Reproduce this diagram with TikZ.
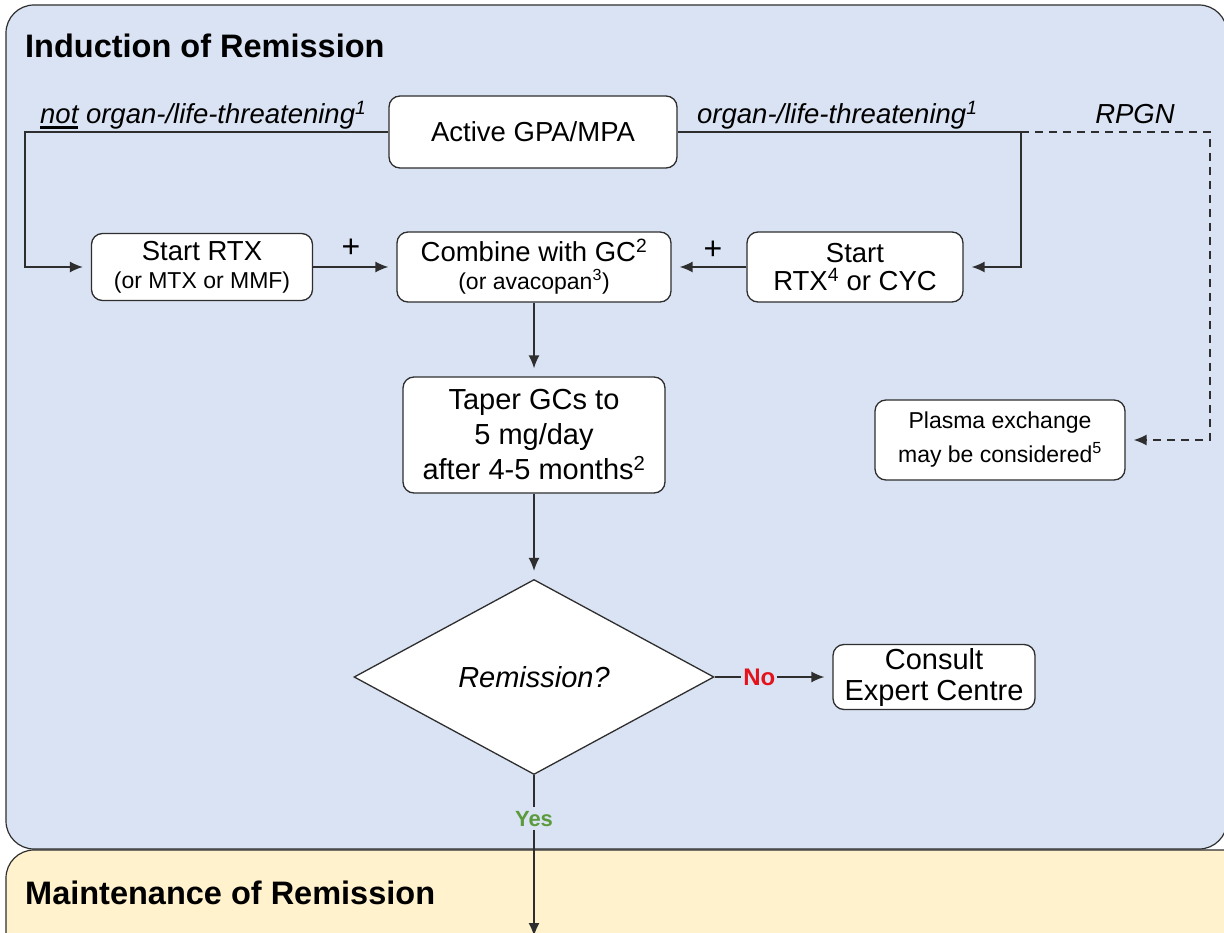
\documentclass[tikz,border=0pt]{standalone}
\usepackage{fontspec}
\setmainfont{Liberation Sans}
\usetikzlibrary{shapes.geometric,arrows.meta}
\definecolor{panelblue}{HTML}{DAE3F3}
\definecolor{panelyellow}{HTML}{FFF2CC}
\definecolor{linegray}{HTML}{2E2E2E}
\definecolor{noRed}{HTML}{E3121B}
\definecolor{yesGreen}{HTML}{5B9B3D}
\newcommand{\thickul}[1]{\setbox0\hbox{#1}\rlap{\rule[-5pt]{\wd0}{3pt}}#1}
\begin{document}
\begin{tikzpicture}[x=1pt,y=-1pt,
  panel/.style={draw=linegray, line width=1.2pt, rounded corners=28pt},
  box/.style={draw=linegray, line width=1.3pt, fill=white, rounded corners=11pt,
    align=center, inner sep=0pt, font=\fontsize{27.5}{33}\selectfont},
  conn/.style={draw=linegray, line width=1.4pt},
  arr/.style={conn, -{Latex[length=13pt,width=11pt]}, shorten >=8pt},
  dasharr/.style={arr, dash pattern=on 8pt off 6pt},
  lab/.style={inner sep=0pt, font=\itshape\fontsize{27.5}{30}\selectfont},
  title/.style={inner sep=0pt, anchor=base west, font=\bfseries\fontsize{32.5}{36}\selectfont},
  plus/.style={inner sep=0pt, font=\fontsize{32}{32}\selectfont}
]
\useasboundingbox (0,0) rectangle (1224,933);
% panels
\draw[panel, fill=panelyellow] (6,980) -- (6,850) -- (1260,850) -- (1260,980);
\draw[panel, fill=panelblue] (6,5) rectangle (1227,849);
\node[title] (t1) at (25,58) {Induction of Remission};
\node[title] (t2) at (25,904) {Maintenance of Remission};

% nodes
\node[box, minimum width=288pt, minimum height=72pt] (act) at (533,132) {Active GPA/MPA};
\node[box, minimum width=221pt, minimum height=67pt] (rtx) at (202,267)
  {Start RTX\\[-5pt]{\fontsize{23}{26}\selectfont (or MTX or MMF)}};
\node[box, minimum width=274pt, minimum height=70pt] (gc) at (534,267)
  {Combine with GC\textsuperscript{2}\\[-5pt]{\fontsize{23}{26}\selectfont (or avacopan\textsuperscript{3})}};
\node[box, minimum width=216pt, minimum height=70pt] (cyc) at (855,267)
  {Start\\[-5pt]RTX\textsuperscript{4} or CYC};
\node[box, minimum width=262pt, minimum height=116pt, font=\fontsize{29}{35}\selectfont] (taper) at (534,435)
  {Taper GCs to\\5 mg/day\\after 4-5 months\textsuperscript{2}};
\node[box, minimum width=250pt, minimum height=80pt, font=\fontsize{23}{34}\selectfont] (pex) at (1000,440)
  {Plasma exchange\\may be considered\textsuperscript{5}};
\node[diamond, draw=linegray, line width=1.3pt, fill=white, inner sep=0pt, aspect=1.85,
  minimum width=360pt, minimum height=195pt, font=\itshape\fontsize{29}{32}\selectfont] (rem) at (534,677) {Remission?};
\node[box, minimum width=202pt, minimum height=65pt, font=\fontsize{29}{31}\selectfont] (exp) at (934,677)
  {Consult\\Expert Centre};

% labels
\node[lab, anchor=base west] (l1) at (40,124) {\thickul{not} organ-/life-threatening\textsuperscript{1}};
\node[lab, anchor=base west] (l2) at (697,124) {organ-/life-threatening\textsuperscript{1}};
\node[lab, anchor=base] (l3) at (1135,124) {RPGN};
\node[plus] (p1) at (351,248) {+};
\node[plus] (p2) at (713,250) {+};

% connectors
\coordinate (cl) at (25,132);
\coordinate (cr) at (1021,132);
\coordinate (cd) at (1210,132);
\draw[arr] (act.west) -- (cl) |- (rtx.west);
\draw[arr] (act.east) -- (cr) |- (cyc.east);
\draw[dasharr] (cr) -- (cd) |- (pex.east);
\draw[arr] (rtx.east) -- (gc.west);
\draw[arr] (cyc.west) -- (gc.east);
\draw[arr] (gc.south) -- (taper.north);
\draw[arr] (taper.south) -- (rem.north);
\draw[arr] (rem.east) -- node[pos=0.38, fill=panelblue, inner sep=2pt, text=noRed, font=\bfseries\fontsize{24}{26}\selectfont] (no) {No} (exp.west);
\coordinate (down) at (534,936);
\draw[arr, shorten >=0pt] (rem.south) -- node[pos=0.27, fill=panelblue, inner sep=4pt, text=yesGreen, font=\bfseries\fontsize{22}{24}\selectfont] (yes) {Yes} (down);
\end{tikzpicture}
\end{document}
